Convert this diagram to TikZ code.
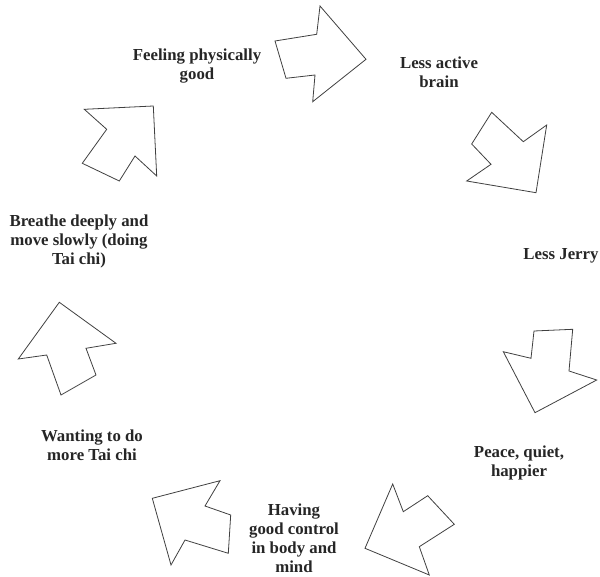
\documentclass[tikz,border=0pt]{standalone}
\usepackage{fontspec}
\setmainfont{Liberation Serif}
\begin{document}
\begin{tikzpicture}[x=1pt,y=-1pt,
  lbl/.style={align=center,inner sep=0pt,font=\fontsize{16.8}{19}\selectfont\bfseries,text=black!85},
  arrowshape/.style={draw=black!75,line width=0.8pt,line join=miter,fill=white}]
\useasboundingbox (0,0) rectangle (600,577);
% labels
\node[lbl] (feel) at (197,66) {Feeling physically\\good};
\node[lbl] (brain) at (439,72) {Less active\\brain};
\node[lbl] (jerry) at (561,256) {Less Jerry};
\node[lbl] (peace) at (519,463) {Peace, quiet,\\happier};
\node[lbl] (control) at (294,538.5) {Having\\good control\\in body and\\mind};
\node[lbl] (want) at (92,445) {Wanting to do\\more Tai chi};
\node[lbl] (breathe) at (79,241) {Breathe deeply and\\move slowly (doing\\Tai chi)};
% arrows
\draw[arrowshape] (275,41) -- (316.7,34.3) -- (320,6) -- (366,59.3) -- (312.7,101.7) -- (315,75) -- (286,78.3) -- cycle;
\draw[arrowshape] (491.7,112.3) -- (523.3,141.7) -- (546.7,125) -- (536,192.7) -- (466.7,181) -- (491,164.3) -- (471.7,144) -- cycle;
\draw[arrowshape] (534,331) -- (572.7,329.3) -- (569,371) -- (596.7,380) -- (535,412.7) -- (503.3,351.7) -- (531,358.3) -- cycle;
\draw[arrowshape] (392.7,484) -- (403.3,511.7) -- (427.7,495.7) -- (454.3,524.3) -- (419.3,546.7) -- (429.3,575) -- (365,548.3) -- cycle;
\draw[arrowshape] (220,480.7) -- (205,506) -- (230.7,515) -- (228.3,553.3) -- (185,540) -- (171,565) -- (152.3,498.3) -- cycle;
\draw[arrowshape] (59.3,302.3) -- (116,343.3) -- (86,348.3) -- (96,375) -- (61,395) -- (46.7,355) -- (18.3,359) -- cycle;
\draw[arrowshape] (84.3,109.3) -- (153.3,106) -- (156.7,176) -- (135,156) -- (119.3,181) -- (82.3,163.3) -- (106.7,129.3) -- cycle;
\end{tikzpicture}
\end{document}
